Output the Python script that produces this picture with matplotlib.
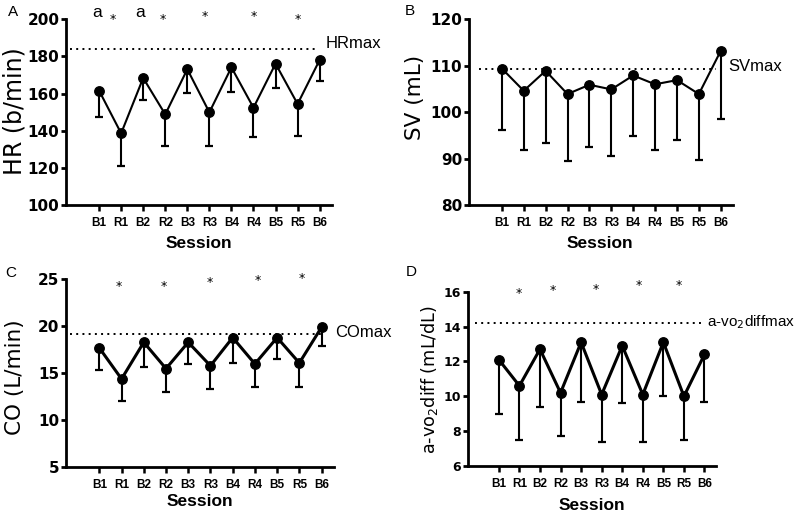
import matplotlib
matplotlib.use('Agg')
import matplotlib.pyplot as plt
import numpy as np

# ---------------- data ----------------
sessions = ['B1', 'R1', 'B2', 'R2', 'B3', 'R3', 'B4', 'R4', 'B5', 'R5', 'B6']

hr_mean = [161.6, 138.6, 168.4, 148.8, 173.1, 149.9, 174.1, 152.4, 176.1, 154.4, 178.1]
hr_sd = [14.2, 17.4, 11.8, 16.8, 13.0, 18.3, 13.1, 15.8, 12.9, 17.4, 11.5]
hr_max = 184.2

sv_mean = [109.4, 104.6, 108.9, 103.9, 105.9, 104.9, 107.9, 106.0, 106.9, 103.9, 113.2]
sv_sd = [13.3, 12.8, 15.5, 14.5, 13.3, 14.3, 13.1, 14.2, 12.9, 14.2, 14.7]
sv_max = 109.2

co_mean = [17.7, 14.4, 18.3, 15.5, 18.3, 15.8, 18.8, 16.0, 18.8, 16.1, 19.9]
co_sd = [2.35, 2.3, 2.6, 2.5, 2.3, 2.45, 2.7, 2.5, 2.25, 2.55, 2.0]
co_max = 19.2

avo_mean = [12.1, 10.6, 12.7, 10.2, 13.1, 10.1, 12.9, 10.1, 13.1, 10.0, 12.4]
avo_sd = [3.1, 3.1, 3.3, 2.5, 3.4, 2.7, 3.3, 2.7, 3.1, 2.5, 2.7]
avo_max = 14.2

# significance marks (position in session index, height in data units)
hr_a_x = [-0.09, 1.88]
hr_a_y = [203.6, 203.6]
hr_star_x = [0.61, 2.88, 4.77, 7.0, 9.0]
hr_star_y = [202.3, 202.3, 203.6, 203.8, 202.3]
co_star_x = [0.88, 2.91, 4.99, 7.12, 9.12]
co_star_y = [24.7, 24.7, 25.06, 25.3, 25.56]
avo_star_x = [0.97, 2.63, 4.69, 6.82, 8.75]
avo_star_y = [16.15, 16.29, 16.38, 16.6, 16.6]

# ---------------- figure ----------------
W, H = 800, 515
fig = plt.figure(figsize=(W / 100, H / 100), dpi=100)


def px_axes(l, r, t, b):
    return fig.add_axes([l / W, 1 - b / H, (r - l) / W, (b - t) / H])


def fpos(x, y):
    return (x / W, 1 - y / H)


def panel(ax, mean, sd, ylim, yticks, lw, ylabel, ylab_px, ylab_size,
          xlab_px, maxval, max_x, max_label, max_label_pos, letter, letter_px,
          ytick_size=11, max_size=12):
    x = np.arange(len(sessions))
    mean = np.asarray(mean)
    sd = np.asarray(sd)
    eb = ax.errorbar(x, mean, yerr=[sd, np.zeros_like(sd)], fmt='none',
                     ecolor='black', elinewidth=1.5, capsize=2.7,
                     capthick=1.6, zorder=2)
    for c in eb[1]:
        if np.allclose(np.asarray(c.get_ydata(), dtype=float), mean):
            c.set_visible(False)
    ax.plot(x, mean, color='black', lw=lw, marker='o', ms=6.8, zorder=3)
    ax.plot(max_x, [maxval, maxval], color='black', lw=1.4,
            linestyle=(0, (1, 2.2)), zorder=1, clip_on=False)
    ax.text(max_label_pos[0], max_label_pos[1], max_label, ha='left',
            va='center', fontsize=max_size, family='Liberation Sans',
            clip_on=False)

    ax.set_xlim(-1.5, 10.56)
    ax.set_ylim(*ylim)
    ax.spines['top'].set_visible(False)
    ax.spines['right'].set_visible(False)
    ax.spines['left'].set_linewidth(2.0)
    ax.spines['bottom'].set_linewidth(2.0)
    ax.set_xticks(x, sessions, fontfamily='Liberation Sans',
                  fontweight='bold', fontsize=8.5)
    ax.set_yticks(yticks)
    plt.setp(ax.get_yticklabels(), fontweight='bold', fontsize=ytick_size,
             family='DejaVu Sans')
    ax.tick_params(axis='y', length=3.8, width=2, pad=1)
    ax.tick_params(axis='x', length=4.2, width=1.8, pad=4.2)

    ax.set_ylabel(ylabel, fontsize=ylab_size, family='DejaVu Sans')
    ax.yaxis.label.set_verticalalignment('center')
    ax.yaxis.label.set_horizontalalignment('center')
    ax.yaxis.set_label_coords(*fpos(*ylab_px), transform=fig.transFigure)

    ax.set_xlabel('Session', fontsize=12.5, fontweight='bold',
                  family='Liberation Sans')
    ax.xaxis.label.set_verticalalignment('center')
    ax.xaxis.set_label_coords(*fpos(*xlab_px), transform=fig.transFigure)

    fig.text(*fpos(*letter_px), letter, ha='center', va='center',
             fontsize=11, family='Liberation Sans')


def stars(ax, xs, ys, size=9):
    for xx, yy in zip(xs, ys):
        ax.annotate('*', xy=(xx, yy), xytext=(0, -3), textcoords='offset points',
                    ha='center', va='center', fontsize=size,
                    family='DejaVu Sans', annotation_clip=False)


# Panel A
axA = px_axes(66, 332, 19.3, 205)
panel(axA, hr_mean, hr_sd, (100, 200), range(100, 201, 20), 1.5,
      'HR (b/min)', (15, 111), 17, (199, 243), hr_max, [-1.33, 9.88],
      'HRmax', (10.26, 187.2), 'A', (13, 12))
stars(axA, hr_star_x, hr_star_y)
for xx, yy in zip(hr_a_x, hr_a_y):
    axA.text(xx, yy, 'a', ha='center', va='center', fontsize=12.5,
             family='Liberation Sans', clip_on=False)

# Panel B
axB = px_axes(469, 733, 19.3, 205)
panel(axB, sv_mean, sv_sd, (80, 120), range(80, 121, 10), 1.5,
      'SV (mL)', (415, 97), 15.5, (600, 243), sv_max, [-1.06, 9.8],
      'SVmax', (10.35, 109.8), 'B', (410, 11))

# Panel C
axC = px_axes(66, 334, 279.3, 467.3)
panel(axC, co_mean, co_sd, (5, 25), range(5, 26, 5), 2.2,
      'CO (L/min)', (15, 377), 15.5, (200, 502), co_max, [-1.34, 10.06],
      'COmax', (10.6, 19.32), 'C', (11, 273))
stars(axC, co_star_x, co_star_y)

# Panel D
axD = px_axes(468, 716, 291.7, 466)
panel(axD, avo_mean, avo_sd, (6, 16), range(6, 17, 2), 2.2,
      r'a-vo$_2$diff (mL/dL)', (430, 379), 12.7, (592, 506), avo_max,
      [-1.17, 9.85], r'a-vo$_2$diffmax', (10.1, 14.24), 'D', (411, 272),
      ytick_size=9, max_size=11)
stars(axD, avo_star_x, avo_star_y)

fig.savefig('out.png', dpi=100)
